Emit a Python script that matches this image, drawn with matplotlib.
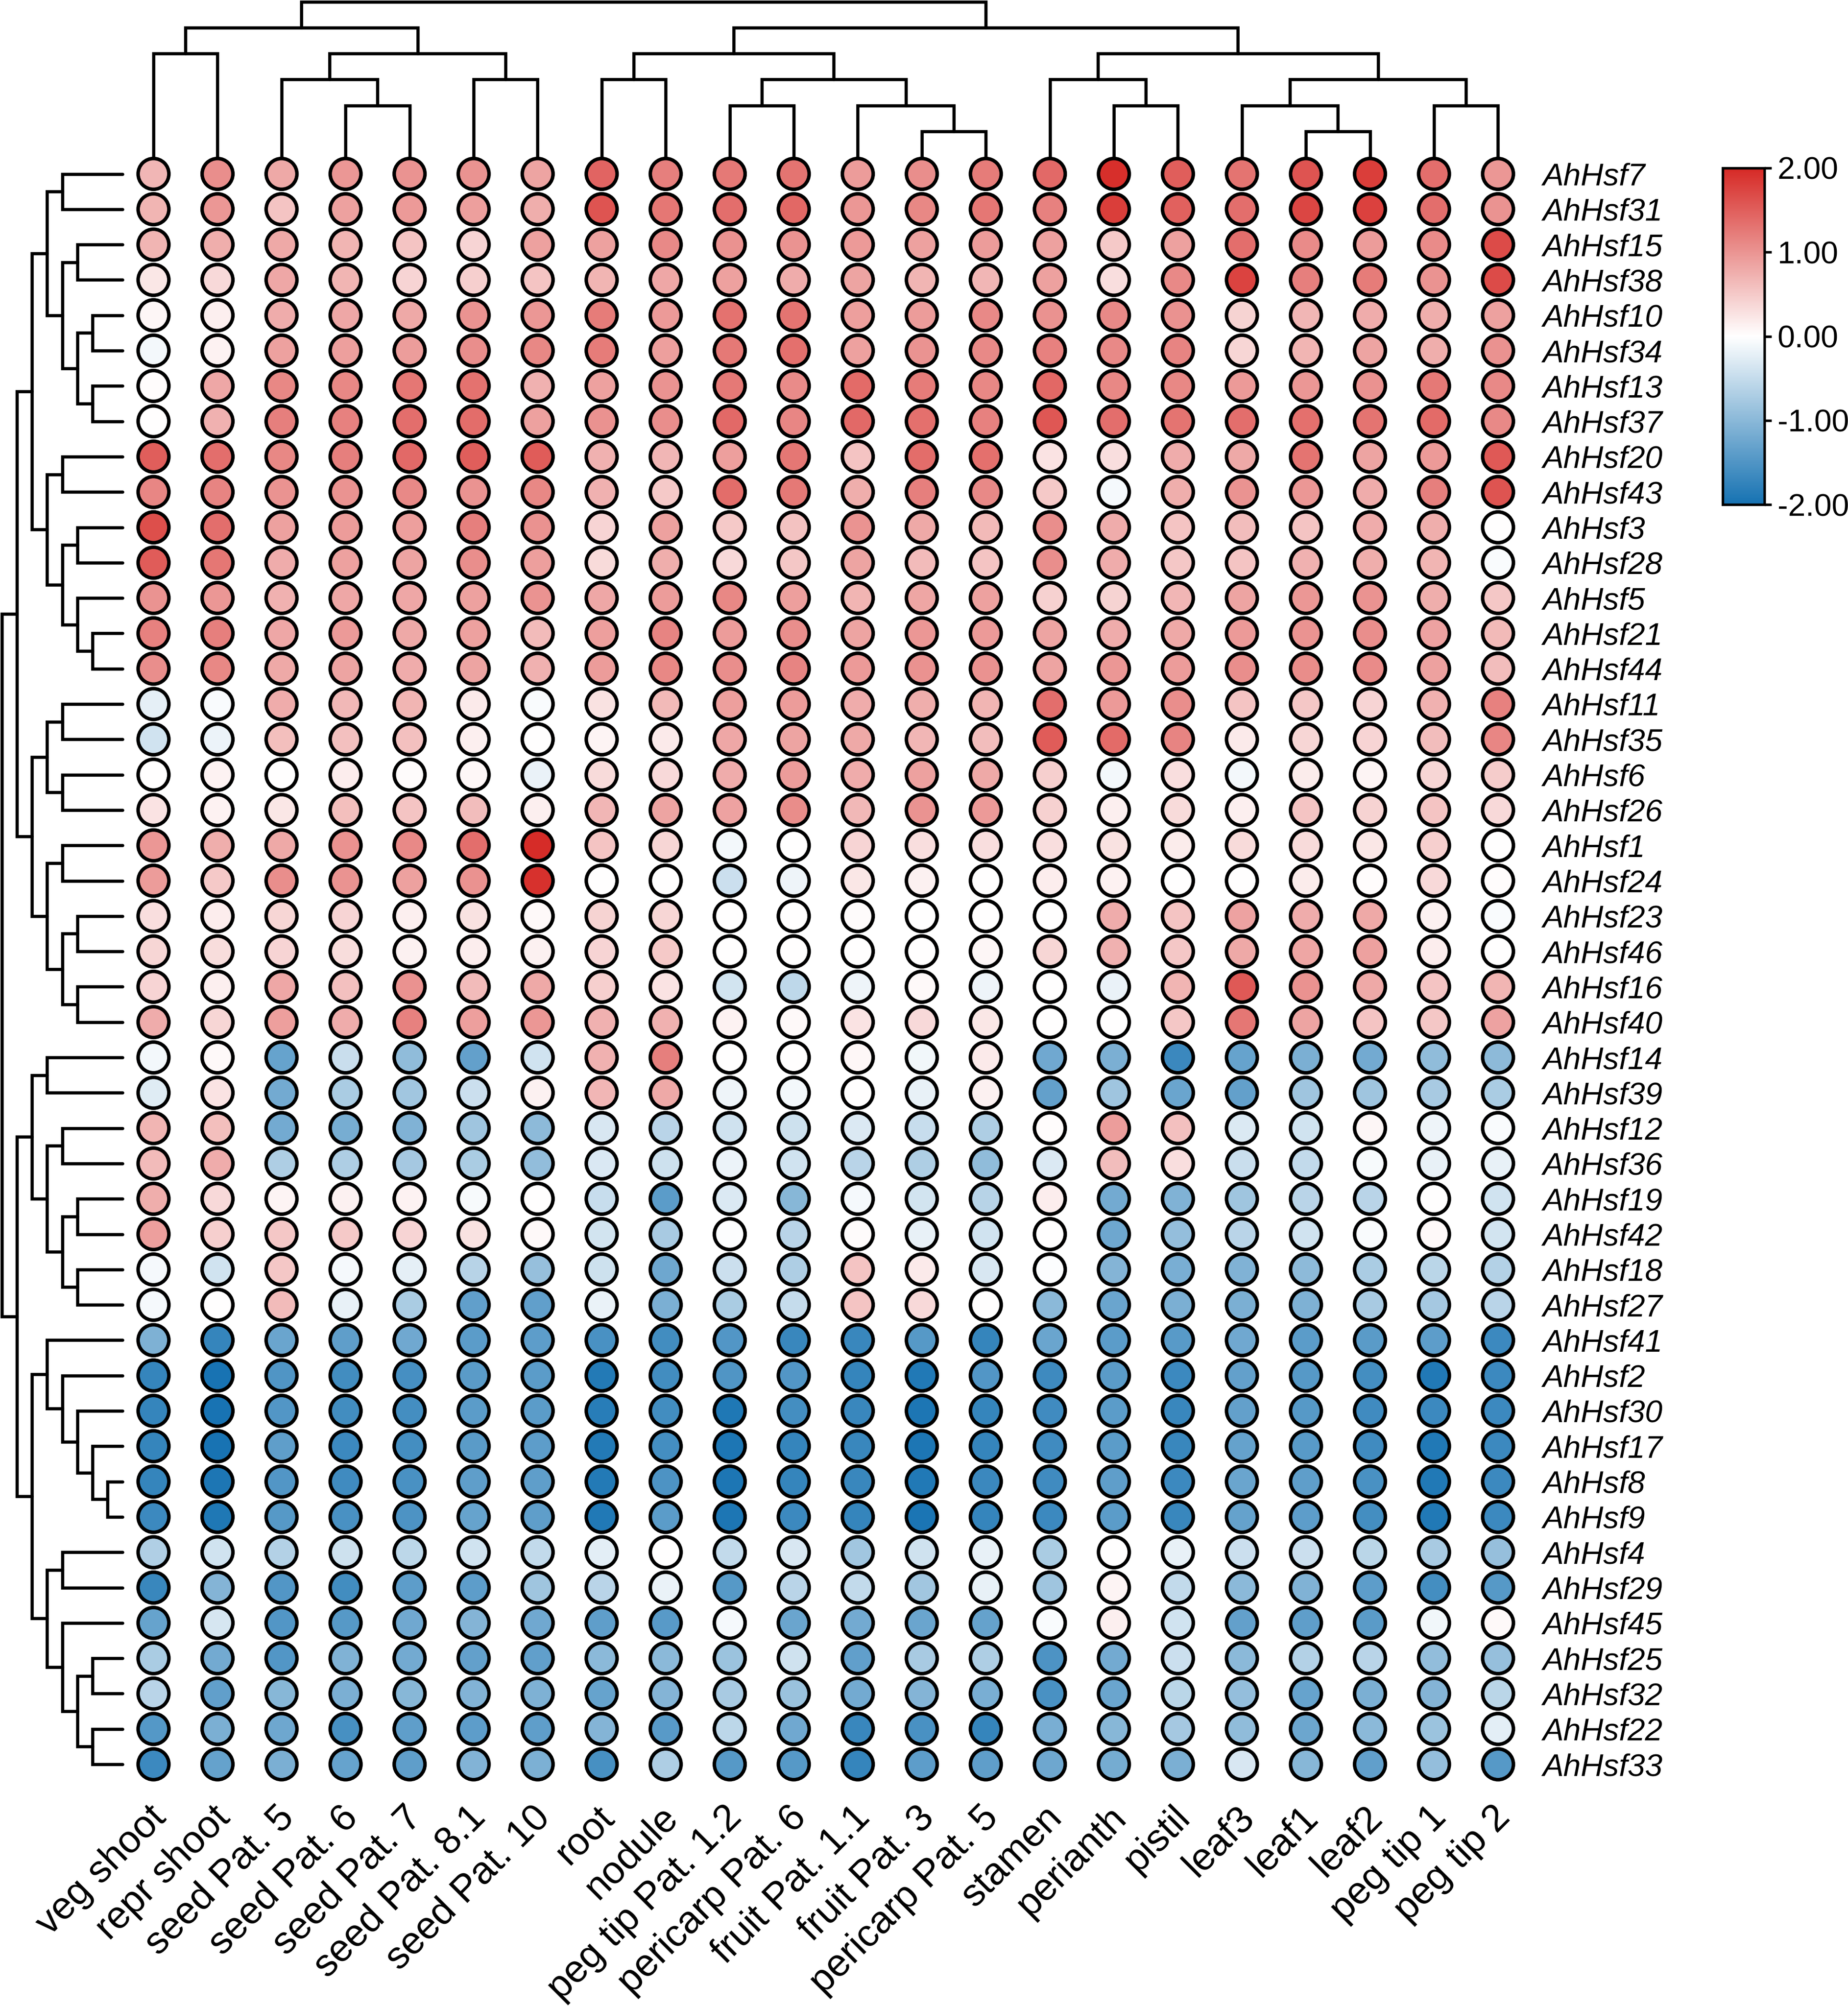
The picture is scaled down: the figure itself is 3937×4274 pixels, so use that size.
import numpy as np
import matplotlib
matplotlib.use("Agg")
import matplotlib.pyplot as plt
from matplotlib.colors import LinearSegmentedColormap, Normalize
from matplotlib.cm import ScalarMappable
from matplotlib.transforms import ScaledTranslation

plt.rcParams['font.family'] = ['Liberation Sans', 'DejaVu Sans']
plt.rcParams['axes.unicode_minus'] = False

FIG_W, FIG_H = 3937, 4274

tissues = ['veg shoot', 'repr shoot', 'seed Pat. 5', 'seed Pat. 6', 'seed Pat. 7', 'seed Pat. 8.1',
           'seed Pat. 10', 'root', 'nodule', 'peg tip Pat. 1.2', 'pericarp Pat. 6', 'fruit Pat. 1.1',
           'fruit Pat. 3', 'pericarp Pat. 5', 'stamen', 'perianth', 'pistil', 'leaf3', 'leaf1', 'leaf2',
           'peg tip 1', 'peg tip 2']

genes = ['AhHsf7', 'AhHsf31', 'AhHsf15', 'AhHsf38', 'AhHsf10', 'AhHsf34', 'AhHsf13', 'AhHsf37', 'AhHsf20',
         'AhHsf43', 'AhHsf3', 'AhHsf28', 'AhHsf5', 'AhHsf21', 'AhHsf44', 'AhHsf11', 'AhHsf35', 'AhHsf6',
         'AhHsf26', 'AhHsf1', 'AhHsf24', 'AhHsf23', 'AhHsf46', 'AhHsf16', 'AhHsf40', 'AhHsf14', 'AhHsf39',
         'AhHsf12', 'AhHsf36', 'AhHsf19', 'AhHsf42', 'AhHsf18', 'AhHsf27', 'AhHsf41', 'AhHsf2', 'AhHsf30',
         'AhHsf17', 'AhHsf8', 'AhHsf9', 'AhHsf4', 'AhHsf29', 'AhHsf45', 'AhHsf25', 'AhHsf32', 'AhHsf22',
         'AhHsf33']

# one row per gene, same order as tissues
expression = [
    [.68, 1.05, .8, .98, 1.0, 1.0, .85, 1.45, 1.2, 1.25, 1.3, .93, 1.05, 1.22, 1.4, 1.95, 1.5, 1.3, 1.6, 1.8, 1.35, .97],
    [.7, .98, .55, .88, .95, .9, .75, 1.6, 1.28, 1.35, 1.42, .98, 1.12, 1.28, 1.18, 1.8, 1.48, 1.35, 1.72, 1.78, 1.35, 1.0],
    [.7, .75, .8, .7, .55, .4, .88, .88, 1.1, 1.02, 1.0, .95, .88, .93, .88, .5, .88, 1.35, 1.08, .93, 1.08, 1.68],
    [.22, .35, .82, .7, .4, .45, .55, .7, .82, .88, .78, .85, .7, .68, .88, .3, 1.1, 1.75, 1.2, 1.22, 1.0, 1.68],
    [.08, .15, .78, .82, .8, 1.0, .98, 1.22, .95, 1.32, 1.3, .9, .93, 1.1, 1.02, 1.1, 1.02, .42, .68, .78, .75, .88],
    [-.1, .12, .88, .9, .92, 1.05, 1.12, 1.22, .9, 1.25, 1.33, .88, 1.0, 1.1, 1.18, 1.1, 1.15, .38, .7, .85, .75, 1.02],
    [.03, .82, 1.12, 1.12, 1.28, 1.32, .72, .88, 1.0, 1.25, 1.08, 1.38, 1.22, 1.12, 1.42, 1.12, 1.12, .95, .97, 1.02, 1.25, 1.1],
    [0, .72, 1.2, 1.18, 1.35, 1.37, .88, 1.03, 1.05, 1.4, 1.13, 1.4, 1.33, 1.18, 1.57, 1.35, 1.3, 1.35, 1.33, 1.3, 1.38, 1.1],
    [1.5, 1.35, 1.12, 1.2, 1.4, 1.5, 1.52, .72, .68, .9, 1.28, .55, 1.37, 1.33, .25, .3, .78, .8, 1.3, .85, .95, 1.55],
    [1.13, 1.15, 1.0, 1.0, 1.1, 1.0, 1.12, .72, .5, 1.37, 1.25, .75, 1.2, 1.1, .5, -.08, .75, 1.0, .97, .78, 1.2, 1.6],
    [1.65, 1.35, .88, .93, .9, 1.2, 1.03, .4, .88, .5, .57, 1.0, .8, .65, 1.05, .78, .55, .62, .55, .78, .75, 0],
    [1.52, 1.27, .78, .88, .85, 1.05, .9, .33, .75, .35, .52, .85, .63, .55, 1.05, .78, .52, .55, .72, .75, .7, -.06],
    [1.0, .97, .72, .82, .82, .88, 1.0, .82, .93, 1.12, .9, .7, .83, .88, .43, .42, .68, .85, .97, 1.0, .75, .52],
    [1.18, 1.2, .82, .95, .8, .88, .63, .9, 1.15, .93, 1.05, .85, .97, .95, .85, .78, .8, .95, 1.0, 1.05, .87, .65],
    [1.05, 1.12, .8, .85, .78, .85, .72, .93, 1.12, 1.05, 1.15, .95, 1.02, 1.03, .85, .97, .93, 1.05, 1.07, 1.08, .88, .62],
    [-.22, -.05, .78, .67, .7, .2, -.05, .27, .65, .9, .93, .78, .75, .7, 1.35, .95, 1.05, .55, .52, .4, .72, 1.18],
    [-.4, -.17, .6, .58, .58, .15, 0, .1, .2, .82, .85, .8, .68, .62, 1.52, 1.38, 1.15, .2, .38, .4, .62, 1.13],
    [0, .12, 0, .17, .04, .07, -.18, .33, .35, .78, .93, .78, .88, .8, .45, -.1, .3, -.1, .18, .1, .38, .48],
    [.25, .12, .23, .6, .55, .62, .15, .68, .85, .87, 1.07, .67, 1.0, .95, .43, .15, .33, .15, .55, .42, .55, .35],
    [.98, .75, .8, 1.03, 1.1, 1.35, 1.97, .55, .38, -.1, 0, .4, .3, .3, .3, .27, .18, .33, .33, .23, .45, 0],
    [.93, .5, 1.05, 1.0, .88, 1.02, 1.93, 0, 0, -.45, -.15, .22, .13, 0, .17, .12, 0, 0, .18, .03, .35, .03],
    [.3, .17, .38, .4, .15, .27, .05, .42, .38, 0, 0, .04, 0, 0, 0, .77, .55, .87, .78, .8, .13, -.05],
    [.38, .32, .4, .32, .13, .17, .13, .4, .5, 0, 0, 0, 0, .08, .38, .72, .53, .8, .83, .88, .17, 0],
    [.4, .15, .82, .58, 1.02, .63, .8, .45, .26, -.38, -.55, -.15, .05, -.15, 0, -.18, .7, 1.55, 1.03, .8, .55, .7],
    [.78, .38, .9, .77, 1.18, .9, .97, .72, .73, .12, .05, .26, .35, .23, 0, 0, .52, 1.27, .85, .55, .52, .87],
    [-.1, .05, -1.3, -.46, -.95, -1.33, -.4, .72, 1.2, 0, 0, .07, -.12, .2, -1.22, -1.14, -1.68, -1.3, -1.13, -1.2, -.95, -.98],
    [-.27, .25, -1.2, -.72, -.8, -.45, .13, .68, .8, -.15, -.1, 0, -.2, .13, -1.33, -.82, -1.28, -1.33, -.82, -.82, -.75, -.72],
    [.7, .6, -1.2, -1.17, -1.08, -.82, -.97, -.33, -.6, -.42, -.43, -.3, -.47, -.7, .03, .92, .58, -.3, -.4, .08, -.15, -.05],
    [.63, .78, -.7, -.7, -.77, -.72, -.93, -.32, -.43, -.17, -.4, -.6, -.7, -.95, -.3, .62, .3, -.46, -.52, -.07, -.2, -.2],
    [.75, .35, .1, .13, .12, -.07, 0, -.47, -1.4, -.3, -1.03, -.09, -.38, -.62, .17, -1.2, -1.08, -.82, -.6, -.6, 0, -.4],
    [.9, .45, .53, .5, .4, .27, .05, -.38, -.75, -.02, -.6, .04, -.2, -.4, 0, -1.25, -.92, -.6, -.4, -.05, .05, -.38],
    [-.08, -.4, .52, -.08, -.22, -.62, -.9, -.43, -1.25, -.45, -.7, .55, .2, -.33, -.03, -1.05, -1.15, -1.08, -.97, -.72, -.58, -.65],
    [-.08, 0, .63, -.2, -.72, -1.35, -1.35, -.18, -1.13, -.72, -.5, .56, .35, 0, -1.0, -1.28, -1.14, -1.13, -1.1, -.75, -.77, -.6],
    [-1.1, -1.72, -1.28, -1.37, -1.23, -1.4, -1.38, -1.55, -1.62, -1.47, -1.7, -1.7, -1.45, -1.72, -1.27, -1.4, -1.43, -1.22, -1.4, -1.42, -1.38, -1.67],
    [-1.72, -1.97, -1.5, -1.62, -1.58, -1.42, -1.4, -1.88, -1.62, -1.5, -1.47, -1.73, -1.9, -1.48, -1.65, -1.42, -1.67, -1.33, -1.44, -1.6, -1.9, -1.67],
    [-1.73, -1.97, -1.48, -1.62, -1.6, -1.4, -1.4, -1.83, -1.62, -1.92, -1.6, -1.7, -1.93, -1.72, -1.63, -1.4, -1.7, -1.33, -1.45, -1.63, -1.67, -1.67],
    [-1.72, -1.97, -1.37, -1.66, -1.6, -1.42, -1.38, -1.88, -1.6, -1.93, -1.72, -1.7, -1.93, -1.72, -1.63, -1.4, -1.7, -1.32, -1.43, -1.63, -1.9, -1.67],
    [-1.73, -1.93, -1.47, -1.63, -1.56, -1.37, -1.37, -1.88, -1.52, -1.93, -1.73, -1.7, -1.9, -1.68, -1.63, -1.36, -1.66, -1.27, -1.37, -1.55, -1.9, -1.66],
    [-1.66, -1.92, -1.45, -1.56, -1.52, -1.3, -1.36, -1.9, -1.4, -1.93, -1.67, -1.72, -1.95, -1.72, -1.66, -1.4, -1.7, -1.32, -1.38, -1.6, -1.9, -1.66],
    [-.68, -.4, -.65, -.43, -.57, -.4, -.53, -.24, 0, -.52, -.33, -.8, -.42, -.2, -.72, 0, -.2, -.45, -.45, -.58, -.75, -.9],
    [-1.7, -1.05, -1.47, -1.62, -1.38, -1.38, -.82, -.6, -.18, -1.45, -.6, -.53, -.8, -.2, -.82, .1, -.52, -1.0, -1.08, -1.38, -1.6, -1.45],
    [-1.3, -.35, -1.47, -1.45, -1.23, -1.05, -1.23, -1.37, -1.43, -.09, -1.28, -1.2, -1.28, -1.32, -.06, .15, -.4, -1.33, -1.36, -1.42, -.12, .05],
    [-.72, -1.2, -1.48, -1.08, -1.2, -1.33, -1.35, -1.0, -1.0, -.85, -.42, -1.35, -.75, -.7, -1.52, -1.2, -.45, -1.0, -.65, -.6, -.93, -.9],
    [-.6, -1.35, -1.03, -1.14, -1.03, -1.07, -1.1, -1.3, -1.05, -.75, -.87, -1.2, -1.05, -1.15, -1.55, -1.28, -.58, -.92, -1.3, -1.13, -1.05, -.58],
    [-1.46, -1.14, -1.25, -1.57, -1.37, -1.38, -1.36, -1.05, -1.43, -.57, -1.23, -1.7, -1.55, -1.72, -1.15, -1.03, -.77, -.95, -1.26, -1.0, -.85, -.25],
    [-1.67, -1.32, -1.13, -1.3, -1.36, -1.07, -1.12, -1.57, -.7, -1.44, -1.44, -1.72, -1.38, -1.36, -1.25, -1.18, -1.13, -.33, -1.03, -1.35, -.92, -1.44],
]

# (height, left, right), plain ints are leaves
col_tree = (6,
            (5, (4, 0, 1), (4, (3, 2, (2, 3, 4)), (3, 5, 6))),
            (5,
             (4, (3, 7, 8), (3, (2, 9, 10), (2, 11, (1, 12, 13)))),
             (4, (3, 14, (2, 15, 16)), (3, (2, 17, (1, 18, 19)), (2, 20, 21)))))

row_upper = (7,
             (6,
              (5, (4, 0, 1), (4, (3, 2, 3), (3, (2, 4, 5), (2, 6, 7)))),
              (5, (4, 8, 9), (4, (3, 10, 11), (3, 12, (2, 13, 14))))),
             (6,
              (5, (4, 15, 16), (4, 17, 18)),
              (5, (4, 19, 20), (4, (3, 21, 22), (3, 23, 24)))))
row_lower = (7,
             (6, (5, 25, 26), (5, (4, 27, 28), (4, (3, 29, 30), (3, 31, 32)))),
             (6,
              (5, 33, (4, 34, (3, 35, (2, 36, (1, 37, 38))))),
              (5, (4, 39, 40), (4, 41, (3, (2, 42, 43), (2, 44, 45))))))
row_tree = (8, row_upper, row_lower)

cbar_ticks = [-2, -1, 0, 1, 2]

cmap = LinearSegmentedColormap.from_list('bwr_heat', ['#1672B2', '#FFFFFF', '#D62A26'])
norm = Normalize(-2, 2)


def px_axes(fig, x0, y0, x1, y1):
    # axes from pixel box, y measured from the top of the picture
    return fig.add_axes([x0 / FIG_W, 1 - y1 / FIG_H, (x1 - x0) / FIG_W, (y1 - y0) / FIG_H])


def draw_tree(ax, node, horizontal):
    """Walk the nested tree, returns (leaf position, height) of the node."""
    if isinstance(node, int):
        return node, 0
    h, left, right = node
    p1, h1 = draw_tree(ax, left, horizontal)
    p2, h2 = draw_tree(ax, right, horizontal)
    pos = [p1, p1, p2, p2]
    hts = [h1, h, h, h2]
    xs, ys = (hts, pos) if horizontal else (pos, hts)
    ax.plot(xs, ys, color='black', lw=1.6, solid_capstyle='round', solid_joinstyle='miter', clip_on=False)
    return (p1 + p2) / 2, h


fig = plt.figure(figsize=(FIG_W / 300, FIG_H / 300), dpi=300)

# pixel layout of the grid
col_x0, col_step = 327, 136.4
row_y0, row_step = 370.5, 75.3
left = col_x0 - col_step / 2
right = col_x0 + col_step * 21.5
top = row_y0 - row_step / 2
bottom = row_y0 + row_step * 45.5

# --- dendrograms ---
ax_top = px_axes(fig, left, 0, right, 335)
ax_top.set_xlim(-0.5, 21.5)
ax_top.set_ylim(0, 335 / 55.2)
ax_top.axis('off')
draw_tree(ax_top, col_tree, False)

ax_left = px_axes(fig, 0, top, 261, bottom)
ax_left.set_xlim(261 / 32.1, 0)
ax_left.set_ylim(45.5, -0.5)
ax_left.axis('off')
draw_tree(ax_left, row_tree, True)

# --- dot grid ---
ax = px_axes(fig, left, top, right, bottom)
ax.set_xlim(-0.5, 21.5)
ax.set_ylim(45.5, -0.5)
ax.patch.set_alpha(0)
for s in ax.spines.values():
    s.set_visible(False)

values = np.array(expression)
yy, xx = np.indices(values.shape)
ax.scatter(xx.ravel(), yy.ravel(), c=values.ravel(), cmap=cmap, norm=norm, s=248,
           edgecolors='black', linewidths=1.8, clip_on=False, zorder=3)

ax.set_xticks(range(len(tissues)))
ax.set_xticklabels(tissues, rotation=45, ha='right', va='top', rotation_mode='anchor', fontsize=19.6)
ax.set_yticks(range(len(genes)))
ax.set_yticklabels(genes, fontsize=16, style='italic')
ax.yaxis.tick_right()
ax.tick_params(axis='both', length=0)
ax.tick_params(axis='y', pad=6.5)
ax.tick_params(axis='x', pad=9)
# tissue labels sit a little left of their column
nudge = ScaledTranslation(-3 / 72, 0, fig.dpi_scale_trans)
for lab in ax.get_xticklabels():
    lab.set_transform(lab.get_transform() + nudge)

# --- colour bar ---
cax = px_axes(fig, 3670, 358, 3759, 1075)
cb = fig.colorbar(ScalarMappable(norm=norm, cmap=cmap), cax=cax, ticks=cbar_ticks, format='%.2f')
cb.ax.tick_params(length=3.6, width=1.3, pad=3, labelsize=16)
cb.outline.set_linewidth(1.3)

fig.savefig('out.png', dpi=300, facecolor='white')
